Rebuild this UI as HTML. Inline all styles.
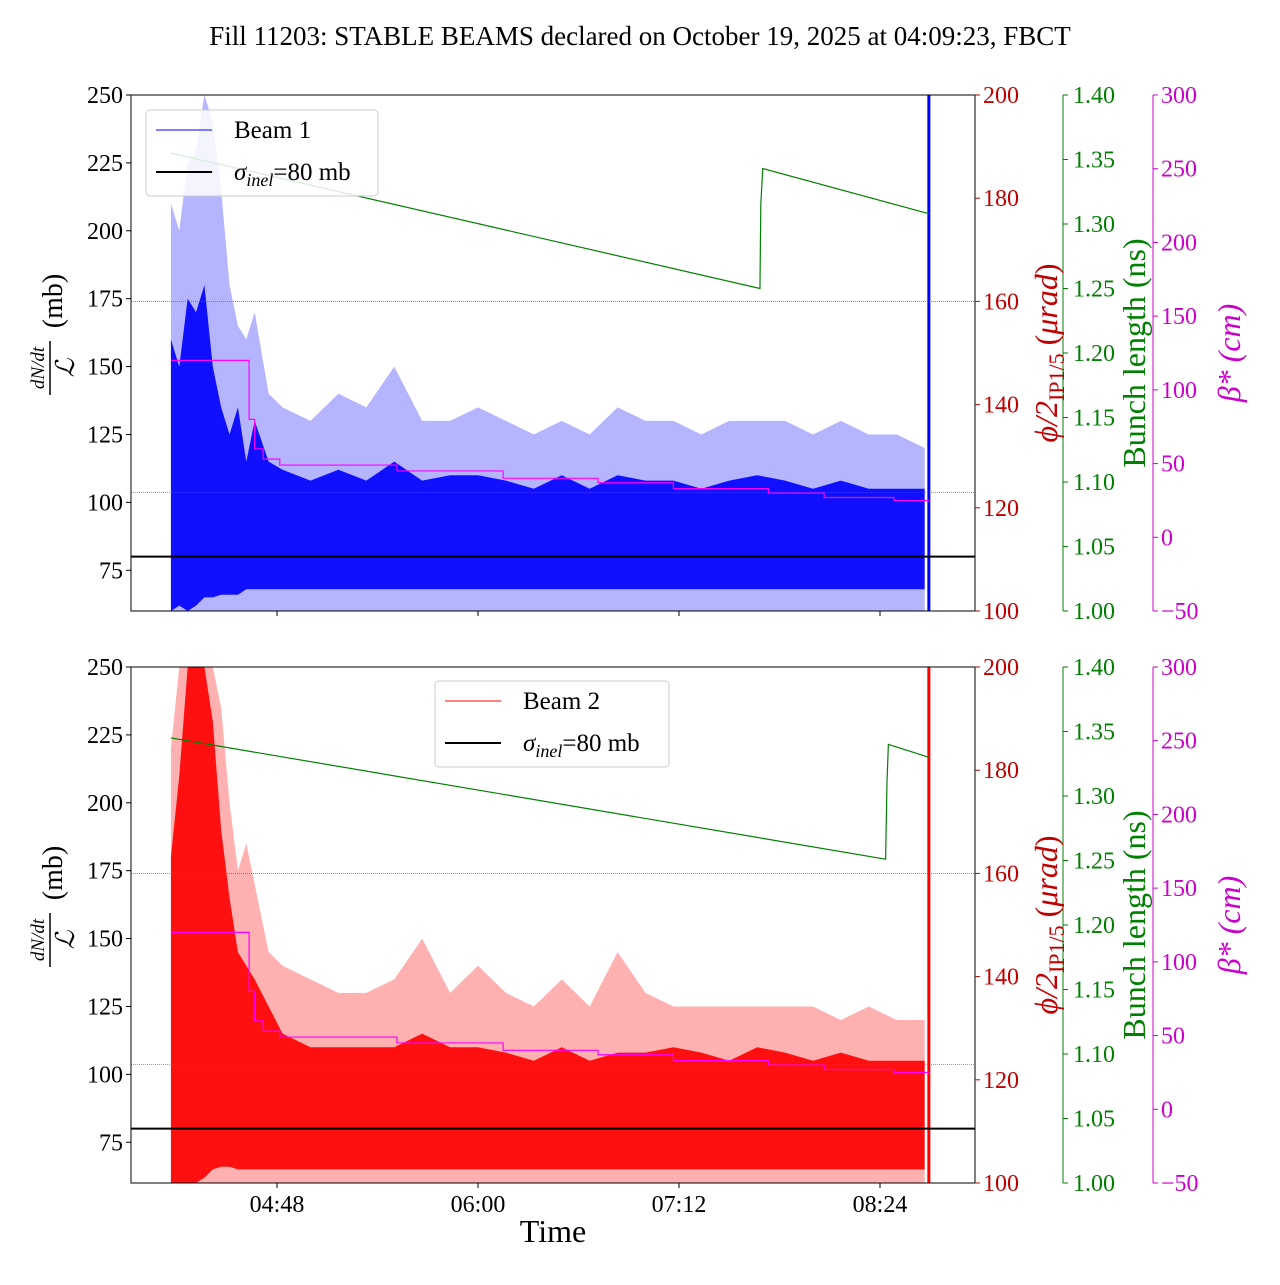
<!DOCTYPE html>
<html><head><meta charset="utf-8"><style>
body{margin:0;background:#fff;}
svg text{font-family:"Liberation Serif",serif;}
</style></head><body>
<svg id="c" width="1280" height="1280" xmlns="http://www.w3.org/2000/svg">
<text x="640" y="45" font-size="27" text-anchor="middle">Fill 11203: STABLE BEAMS declared on October 19, 2025 at 04:09:23, FBCT</text>
</svg>
<script>
// time in minutes after 04:00
const envTimes=[10,13,16,19,22,25,28,31,34,37,40,45,50,60,70,80,90,100,110,120,130,140,150,160,170,180,190,200,210,220,230,240,250,260,270,280];
const b1LightUpper=[210,200,225,230,250,240,215,180,165,160,170,140,135,130,140,135,150,130,130,135,130,125,130,125,135,130,130,125,130,130,130,125,130,125,125,120];
const b1DarkUpper=[160,150,175,170,180,150,135,125,135,115,130,115,112,108,112,108,115,108,110,110,108,105,110,105,110,108,108,105,108,110,108,105,108,105,105,105];
const b1DarkLower=[60,62,60,62,65,65,66,66,66,68,68,68,68,68,68,68,68,68,68,68,68,68,68,68,68,68,68,68,68,68,68,68,68,68,68,68];
const b2LightUpper=[220,250,250,250,250,250,235,200,175,185,170,145,140,135,130,130,135,150,130,140,130,125,135,125,145,130,125,125,125,125,125,125,120,125,120,120];
const b2DarkUpper=[180,210,250,250,250,230,190,165,145,140,135,125,115,110,110,110,110,115,110,110,108,105,110,105,108,108,110,108,105,110,108,105,108,105,105,105];
const b2DarkLower=[60,60,60,60,62,65,66,66,65,65,65,65,65,65,65,65,65,65,65,65,65,65,65,65,65,65,65,65,65,65,65,65,65,65,65,65];
const b1BunchT=[10,221,221.3,222,281.5];
const b1Bunch=[1.355,1.25,1.315,1.343,1.308];
const b2BunchT=[10,266,266.5,267,281.5];
const b2Bunch=[1.345,1.251,1.31,1.34,1.33];
const betaT=[10,33,38,40,43,43.1,49,91,129,163,190,224,244,269,281.5];
const betaV=[120,120,80,60,57,53,49,45,40,37,33,30,27,25,25];
const leftTicks=[75,100,125,150,175,200,225,250];
const redTicks=[100,120,140,160,180,200];
const greenTicks=[1.00,1.05,1.10,1.15,1.20,1.25,1.30,1.35,1.40];
const magTicks=[-50,0,50,100,150,200,250,300];
const timeTicks=[48,120,192,264];
const timeLabels=["04:48","06:00","07:12","08:24"];
const gridRed=[160,123];

const svg=document.getElementById('c');const NS="http://www.w3.org/2000/svg";
function mk(t,a,p){const e=document.createElementNS(NS,t);for(const k in a)e.setAttribute(k,a[k]);(p||svg).appendChild(e);return e;}
const X0=131,X1=975;
const xs=t=>277+(t-48)*201/72;
function panel(top,beam){
  const bot=top+516;
  const g=mk('g',{});
  
  
  const yL=v=>bot-(v-60)/190*516;
  const yR=v=>bot-(v-100)/100*516;
  const yG=v=>bot-(v-1)/0.4*516;
  const yM=v=>bot-(v+50)/350*516;
  const lu=beam===1?b1LightUpper:b2LightUpper,du=beam===1?b1DarkUpper:b2DarkUpper,dl=beam===1?b1DarkLower:b2DarkLower;
  const light=beam===1?'#b4b4ff':'#ffb0b0',dark=beam===1?'#1010ff':'#ff1010',lineC=beam===1?'#0000ff':'#ff0000';
  const cl=v=>Math.min(v,250);
  let p='M'+xs(envTimes[0])+','+bot;
  envTimes.forEach((t,i)=>p+=' L'+xs(t)+','+yL(cl(lu[i])));
  p+=' L'+xs(envTimes[envTimes.length-1])+','+bot+' Z';
  const a=mk('path',{d:p,fill:light},g);
  
  
  p='';
  envTimes.forEach((t,i)=>p+=(i?' L':'M')+xs(t)+','+yL(cl(du[i])));
  for(let i=envTimes.length-1;i>=0;i--)p+=' L'+xs(envTimes[i])+','+yL(dl[i]);
  const d=mk('path',{d:p+' Z',fill:dark},g);
  
  
  const sp=mk('line',{x1:xs(281.5),x2:xs(281.5),y1:top,y2:bot,stroke:lineC,'stroke-width':3},g);
  
  
  gridRed.forEach(v=>{const l=mk('line',{x1:X0,x2:X1,y1:yR(v),y2:yR(v),stroke:'#666','stroke-width':0.7,'stroke-dasharray':'1,1'},g);
    
    });
  const sl=mk('line',{x1:X0,x2:X1,y1:yL(80),y2:yL(80),stroke:'#000','stroke-width':2},g);
  
  
  const bt=beam===1?b1BunchT:b2BunchT,bv=beam===1?b1Bunch:b2Bunch;
  const gp=mk('polyline',{points:bt.map((t,i)=>xs(t)+','+yG(bv[i])).join(' '),fill:'none',stroke:'#008000','stroke-width':1.2},g);
  
  
  const mp=mk('polyline',{points:betaT.map((t,i)=>(i&&betaV[i]!==betaV[i-1]&&t-betaT[i-1]>1?xs(t)+','+yM(betaV[i-1])+' ':'')+xs(t)+','+yM(betaV[i])).join(' '),fill:'none',stroke:'#ff00ff','stroke-width':1.2},g);
  
  
  mk('rect',{x:X0,y:top,width:X1-X0,height:516,fill:'none',stroke:'#000','stroke-width':1},g);
  leftTicks.forEach(v=>{mk('line',{x1:X0-5,x2:X0,y1:yL(v),y2:yL(v),stroke:'#000'},g);
    const t=mk('text',{x:X0-8,y:yL(v)+8,'font-size':24,'text-anchor':'end'},g);t.textContent=v;
    });
  redTicks.forEach(v=>{mk('line',{x1:X1,x2:X1+5,y1:yR(v),y2:yR(v),stroke:'#c00000'},g);
    const t=mk('text',{x:X1+8,y:yR(v)+8,'font-size':24,fill:'#c00000'},g);t.textContent=v;
    });
  mk('line',{x1:1063,x2:1063,y1:top,y2:bot,stroke:'#008000'},g);
  greenTicks.forEach(v=>{mk('line',{x1:1063,x2:1068,y1:yG(v),y2:yG(v),stroke:'#008000'},g);
    const t=mk('text',{x:1073,y:yG(v)+8,'font-size':24,fill:'#008000'},g);t.textContent=v.toFixed(2);
    });
  mk('line',{x1:1153,x2:1153,y1:top,y2:bot,stroke:'#cc00cc'},g);
  magTicks.forEach(v=>{mk('line',{x1:1153,x2:1158,y1:yM(v),y2:yM(v),stroke:'#cc00cc'},g);
    const t=mk('text',{x:1161,y:yM(v)+8,'font-size':24,fill:'#cc00cc'},g);t.textContent=(v<0?'\u2212'+(-v):v);
    });
  timeTicks.forEach((t,i)=>{mk('line',{x1:xs(t),x2:xs(t),y1:bot,y2:bot+5,stroke:'#000'},g);
    if(beam===2){const tx=mk('text',{x:xs(t),y:bot+29,'font-size':24,'text-anchor':'middle'},g);tx.textContent=timeLabels[i];
    }});
  const cy=(top+bot)/2;
  const yl=mk('g',{transform:`translate(62,${cy}) rotate(-90)`},g);
  
  let t=mk('text',{x:-15,y:-18,'font-size':19,'text-anchor':'middle','font-style':'italic'},yl);t.textContent='dN/dt';
  mk('line',{x1:-42,x2:12,y1:-12,y2:-12,stroke:'#000','stroke-width':1.5},yl);
  t=mk('text',{x:-15,y:12,'font-size':26,'text-anchor':'middle','font-style':'italic'},yl);t.textContent='\u2112';
  t=mk('text',{x:52,y:0,'font-size':28,'text-anchor':'middle'},yl);t.textContent='(mb)';
  t=mk('text',{transform:`translate(1057,${cy}) rotate(-90)`,'font-size':32,fill:'#c00000','text-anchor':'middle'},g);
  t.innerHTML='<tspan font-style="italic">\u03d5/2</tspan><tspan font-size="22" dy="7">IP1/5</tspan><tspan dy="-7"> (</tspan><tspan font-style="italic">\u03bcrad</tspan>)';
  
  t=mk('text',{transform:`translate(1145,${cy}) rotate(-90)`,'font-size':32,fill:'#008000','text-anchor':'middle'},g);t.textContent='Bunch length (ns)';
  
  t=mk('text',{transform:`translate(1240,${cy}) rotate(-90)`,'font-size':32,fill:'#cc00cc','text-anchor':'middle','font-style':'italic'},g);t.textContent='\u03b2* (cm)';
  
  const lx=beam===1?146:435,ly=beam===1?110:681,lw=beam===1?232:234;
  const lg=mk('g',{},g);
  mk('rect',{x:lx,y:ly,width:lw,height:86,rx:4,fill:'#fff','fill-opacity':0.85,stroke:'#ccc'},lg);
  mk('line',{x1:lx+10,x2:lx+66,y1:ly+20,y2:ly+20,stroke:lineC,'stroke-width':1},lg);
  t=mk('text',{x:lx+88,y:ly+28,'font-size':25},lg);t.textContent=beam===1?'Beam 1':'Beam 2';
  mk('line',{x1:lx+10,x2:lx+66,y1:ly+62,y2:ly+62,stroke:'#000','stroke-width':2},lg);
  t=mk('text',{x:lx+88,y:ly+70,'font-size':25},lg);
  t.innerHTML='<tspan font-style="italic">\u03c3</tspan><tspan font-size="18" dy="6" font-style="italic">inel</tspan><tspan dy="-6">=80 mb</tspan>';
}
panel(95,1);panel(667,2);
const xt=mk('text',{x:553,y:1242,'font-size':32,'text-anchor':'middle'});xt.textContent='Time';


</script>
</body></html>
